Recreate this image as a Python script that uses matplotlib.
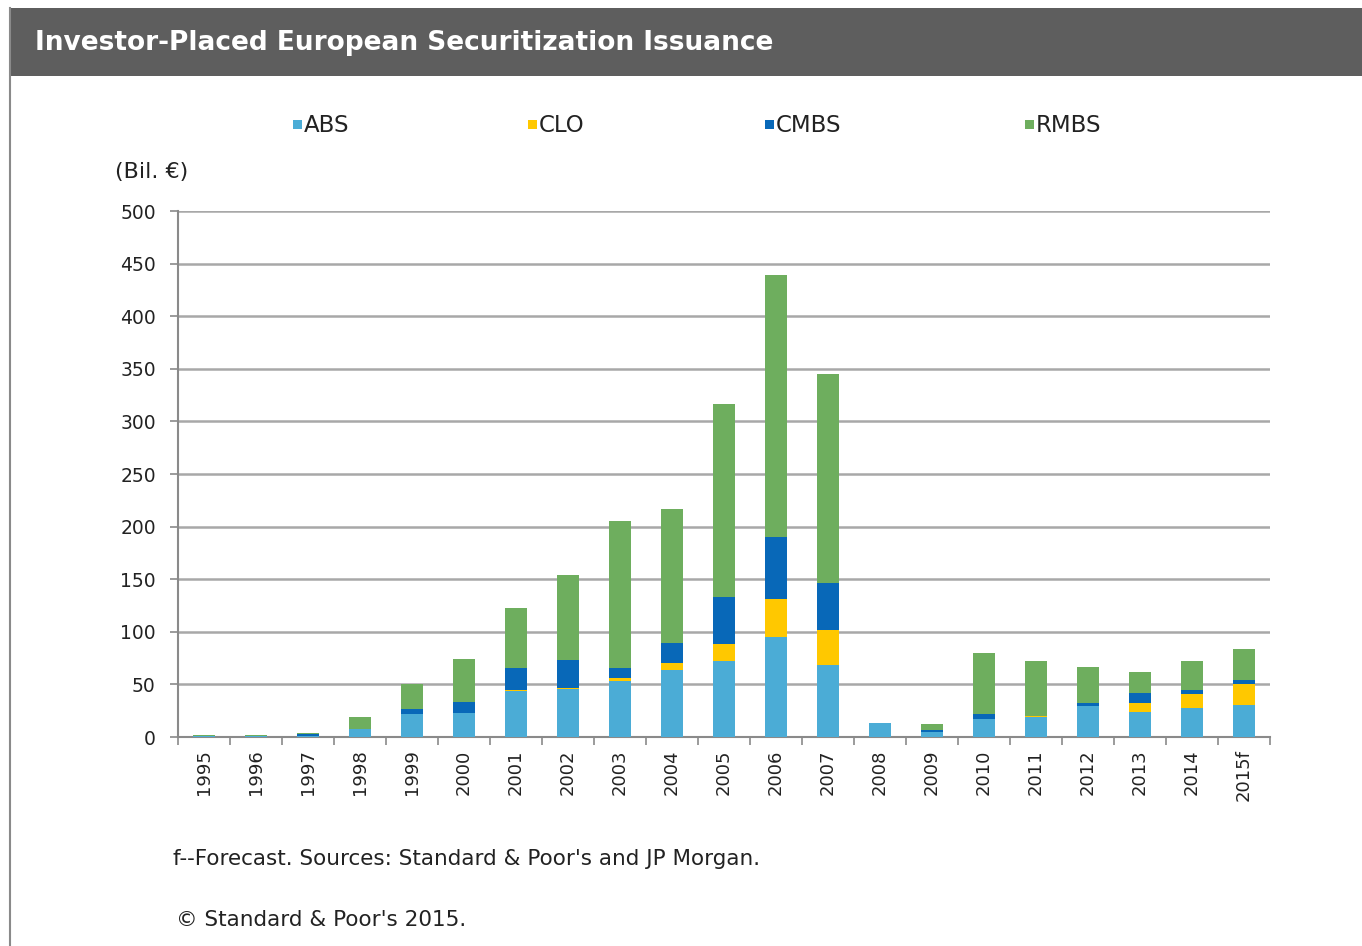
import numpy as np
import matplotlib
matplotlib.use("Agg")
import matplotlib.pyplot as plt
from matplotlib.patches import Rectangle
from matplotlib.lines import Line2D

plt.rcParams['font.family'] = ['DejaVu Sans']

years = ["1995", "1996", "1997", "1998", "1999", "2000", "2001", "2002", "2003",
         "2004", "2005", "2006", "2007", "2008", "2009", "2010", "2011", "2012",
         "2013", "2014", "2015f"]
# Bil. EUR per year, stacked bottom to top
abs_vals = [1, 1, 1, 8, 22, 23, 44, 46, 53, 64, 72, 95, 68, 13, 5, 17, 19, 29, 24, 28, 30]
clo_vals = [0, 0, 0, 0, 0, 0, 1, 1, 3, 6, 16, 36, 34, 0, 0, 0, 1, 0, 8, 13, 20]
cmbs_vals = [0, 0, 2, 0, 5, 10, 21, 26, 10, 19, 45, 59, 44, 0, 2, 5, 0, 3, 10, 4, 4]
rmbs_vals = [1, 1, 1, 11, 23, 41, 57, 81, 139, 128, 184, 249, 199, 0, 5, 58, 52, 35, 20, 27, 30]

series = ["ABS", "CLO", "CMBS", "RMBS"]
colors = ["#4BACD6", "#FFC800", "#0868B8", "#6EAE5E"]
yticks = list(range(0, 501, 50))

W, H = 1362, 946
fig = plt.figure(figsize=(W / 100, H / 100), dpi=100)
fig.patch.set_facecolor("white")

# header band and frame
fig.patches.append(Rectangle((10 / W, 1 - 76 / H), 1 - 10 / W, 68 / H,
                             transform=fig.transFigure, facecolor="#5E5E5E",
                             edgecolor="none", zorder=0))
fig.lines.append(Line2D([10 / W, 10 / W], [0, 1 - 8 / H], transform=fig.transFigure,
                        color="#8A8A8A", lw=1.5))
fig.text(35 / W, 1 - 43 / H, "Investor-Placed European Securitization Issuance",
         color="white", fontsize=19, fontweight="bold", va="center", ha="left")

ax = fig.add_axes([178 / W, 1 - 737 / H, (1270 - 178) / W, (737 - 211) / H])
x = np.arange(len(years))
bottom = np.zeros(len(years))
for name, vals, col in zip(series, [abs_vals, clo_vals, cmbs_vals, rmbs_vals], colors):
    vals = np.array(vals, dtype=float)
    ax.bar(x, vals, width=0.41, bottom=bottom, color=col, label=name, zorder=3)
    bottom += vals

ax.set_xlim(-0.5, len(years) - 0.5)
ax.set_ylim(0, 500)
ax.set_yticks(yticks)
ax.set_yticklabels([str(v) for v in yticks], fontsize=13.5, color="#222222")
ax.yaxis.grid(True, color="#A8A8A8", lw=1.8, zorder=0)
ax.set_axisbelow(True)
ax.set_xticks(x)
ax.set_xticklabels(years, rotation=90, fontsize=13, color="#222222")
ax.tick_params(axis="x", length=0, pad=9)
ax.set_xticks(np.arange(-0.5, len(years)), minor=True)
ax.tick_params(axis="x", which="minor", length=6, color="#8A8A8A", width=1.2)
ax.tick_params(axis="y", length=6, color="#8A8A8A", width=1.2, pad=10)
for s in ["top", "right"]:
    ax.spines[s].set_visible(False)
for s in ["left", "bottom"]:
    ax.spines[s].set_color("#8A8A8A")
    ax.spines[s].set_linewidth(1.5)

# legend row
leg_x = [293, 528, 765, 1025]
for name, col, lx in zip(series, colors, leg_x):
    fig.patches.append(Rectangle((lx / W, 1 - 129 / H), 9 / W, 9 / H,
                                 transform=fig.transFigure, facecolor=col,
                                 edgecolor="none"))
    fig.text((lx + 11) / W, 1 - 125 / H, name, fontsize=16.5, va="center", ha="left",
             color="#222222")

fig.text(115 / W, 1 - 172 / H, "(Bil. \u20ac)", fontsize=16, va="center", ha="left",
         color="#222222")
fig.text(173 / W, 1 - 859 / H,
         "f--Forecast. Sources: Standard & Poor's and JP Morgan.",
         fontsize=15.5, va="center", ha="left", color="#222222")
fig.text(176 / W, 1 - 920 / H, "\u00a9 Standard & Poor's 2015.",
         fontsize=15.5, va="center", ha="left", color="#222222")

fig.savefig("out.png", dpi=100)
